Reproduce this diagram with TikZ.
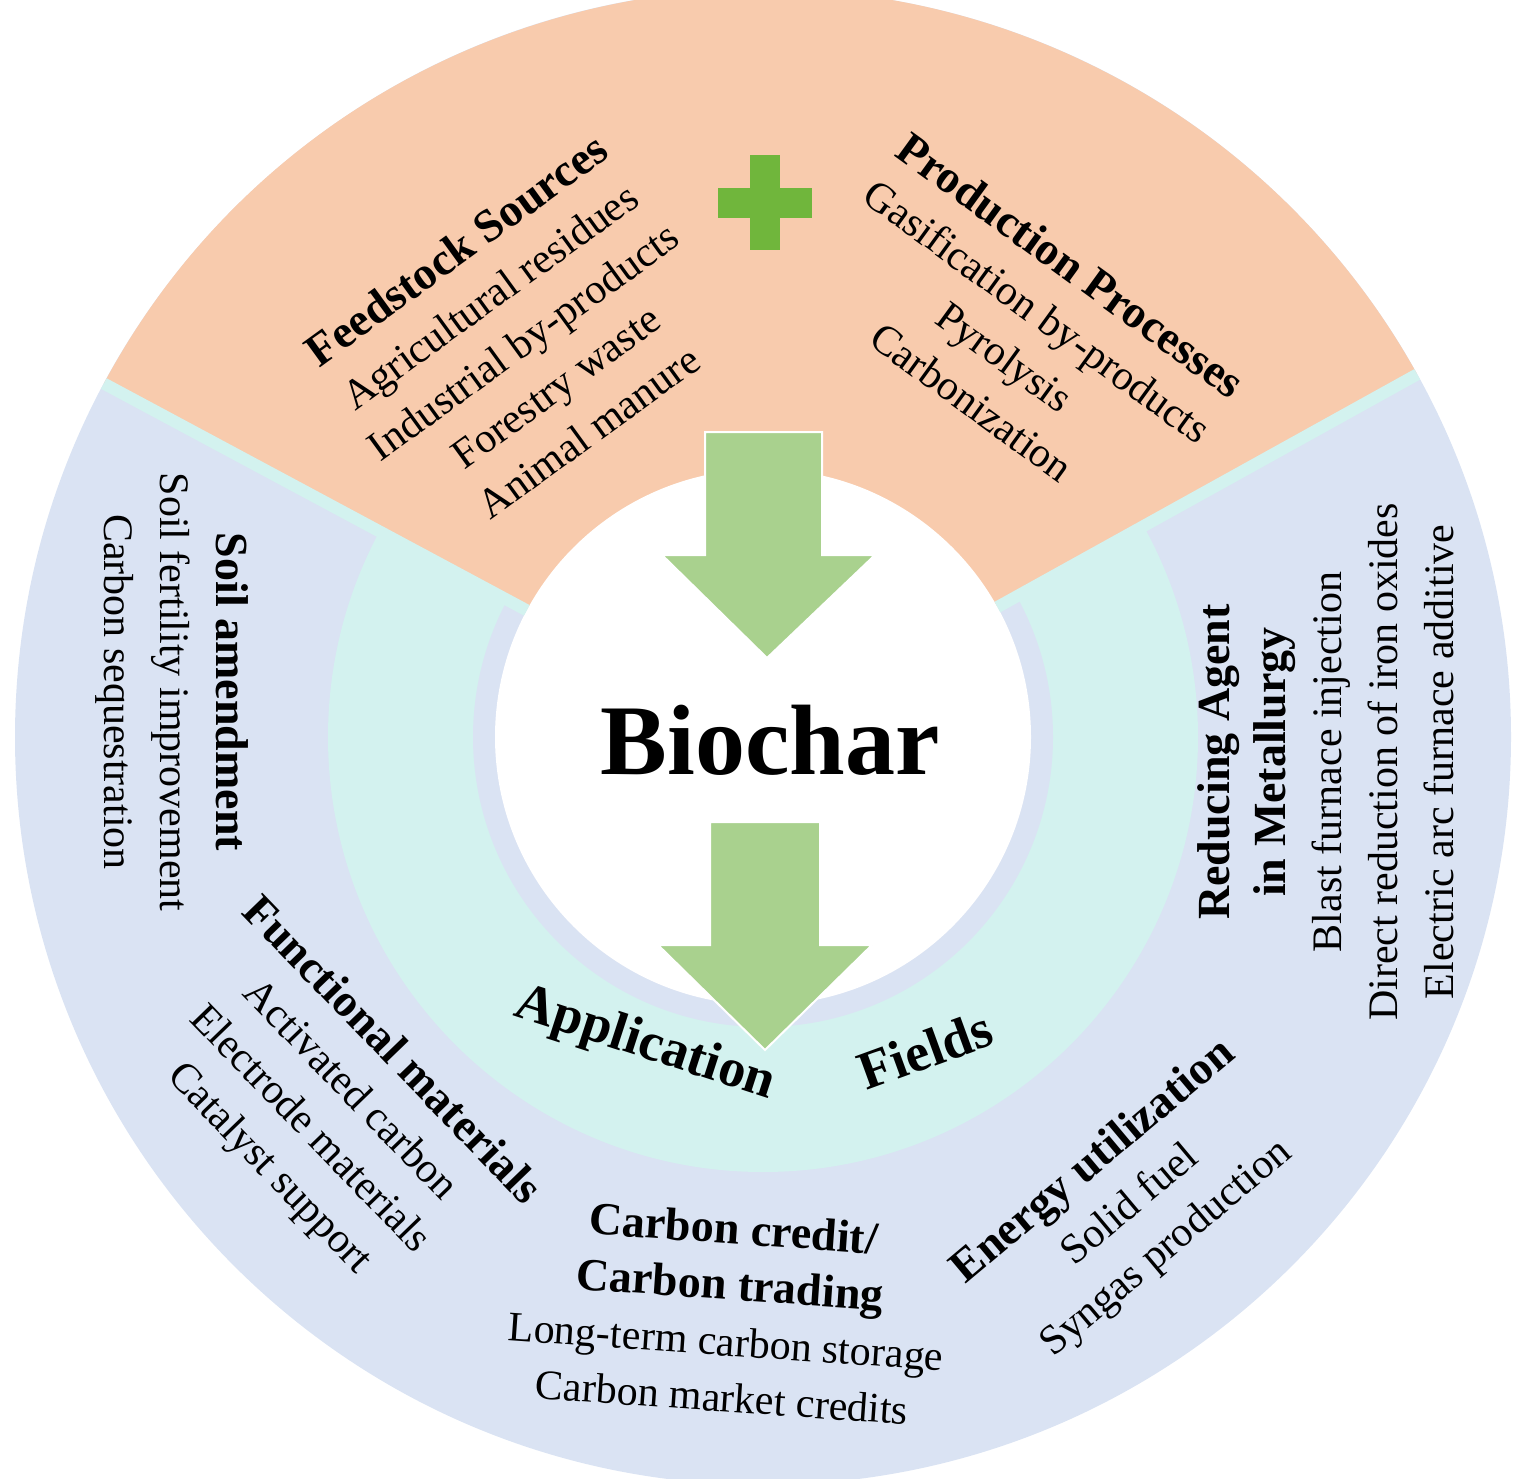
\documentclass[tikz,border=0pt]{standalone}
\usepackage{fontspec}
\setmainfont{Liberation Serif}
\definecolor{lav}{HTML}{DAE3F3}
\definecolor{tealc}{HTML}{D3F2EF}
\definecolor{orng}{HTML}{F8CBAD}
\definecolor{grn}{HTML}{70B63C}
\definecolor{agrn}{HTML}{A9D18E}
\newcommand\myhead{\fontsize{46}{56}\selectfont\bfseries}
\begin{document}
\begin{tikzpicture}[x=1pt,y=1pt,
 txt/.style={align=center,font=\fontsize{42}{56}\selectfont},
 hd/.style={font=\fontsize{54}{60}\selectfont\bfseries},
 arr/.style={fill=agrn,draw=white,line width=2pt}]
\useasboundingbox (0,0) rectangle (1526,-1479);
\coordinate (c) at (763,-737);
\fill[lav] (c) circle (748);
\fill[tealc] (c) circle (435);
\fill[lav] (c) circle (290);
\fill[orng] (c) -- ++(151.8:748) arc (151.8:29:748) -- cycle;
\fill[white] (c) circle (268);
\draw[tealc,line width=12pt] (c) ++(151.8:268) -- ++(151.8:480);
\draw[tealc,line width=12pt] (c) ++(29:268) -- ++(29:480);
% plus
\fill[grn] (750,-155) rectangle (780,-250);
\fill[grn] (718,-188) rectangle (812,-218);
% arrows
\draw[arr] (705,-432) -- (822,-432) -- (822,-555) -- (875,-555) -- (767,-658) -- (662,-555) -- (705,-555) -- cycle;
\draw[arr] (710,-822) -- (820,-822) -- (820,-945) -- (872,-945) -- (765,-1050) -- (658,-945) -- (710,-945) -- cycle;
\node (bio) at (770,-740) {\fontsize{100}{110}\selectfont\bfseries Biochar};
\node[txt,rotate=36] (feed) at (522,-340) {{\myhead Feedstock Sources}\\Agricultural residues\\Industrial by-products\\Forestry waste\\Animal manure};
\node[txt,rotate=-36] (prod) at (1022,-333) {{\myhead Production Processes}\\Gasification by-products\\Pyrolysis\\Carbonization};
\node[txt,rotate=-90] (soil) at (172,-692) {{\myhead Soil amendment}\\Soil fertility improvement\\Carbon sequestration};
\node[txt,rotate=90] (red) at (1326,-762) {{\myhead Reducing Agent}\\{\myhead in Metallurgy}\\Blast furnace injection\\Direct reduction of iron oxides\\Electric arc furnace additive};
\node[txt,rotate=-46] (func) at (330,-1110) {{\myhead Functional materials}\\Activated carbon\\Electrode materials\\Catalyst support};
\node[txt,rotate=-4] (cc) at (728,-1312) {{\myhead Carbon credit/}\\{\myhead Carbon trading}\\Long-term carbon storage\\Carbon market credits};
\node[txt,rotate=40] (en) at (1130,-1205) {{\myhead Energy utilization}\\Solid fuel\\Syngas production};
\node[hd,rotate=-18] (app) at (645,-1045) {Application};
\node[hd,rotate=20] (fld) at (925,-1050) {Fields};
\end{tikzpicture}
\end{document}
